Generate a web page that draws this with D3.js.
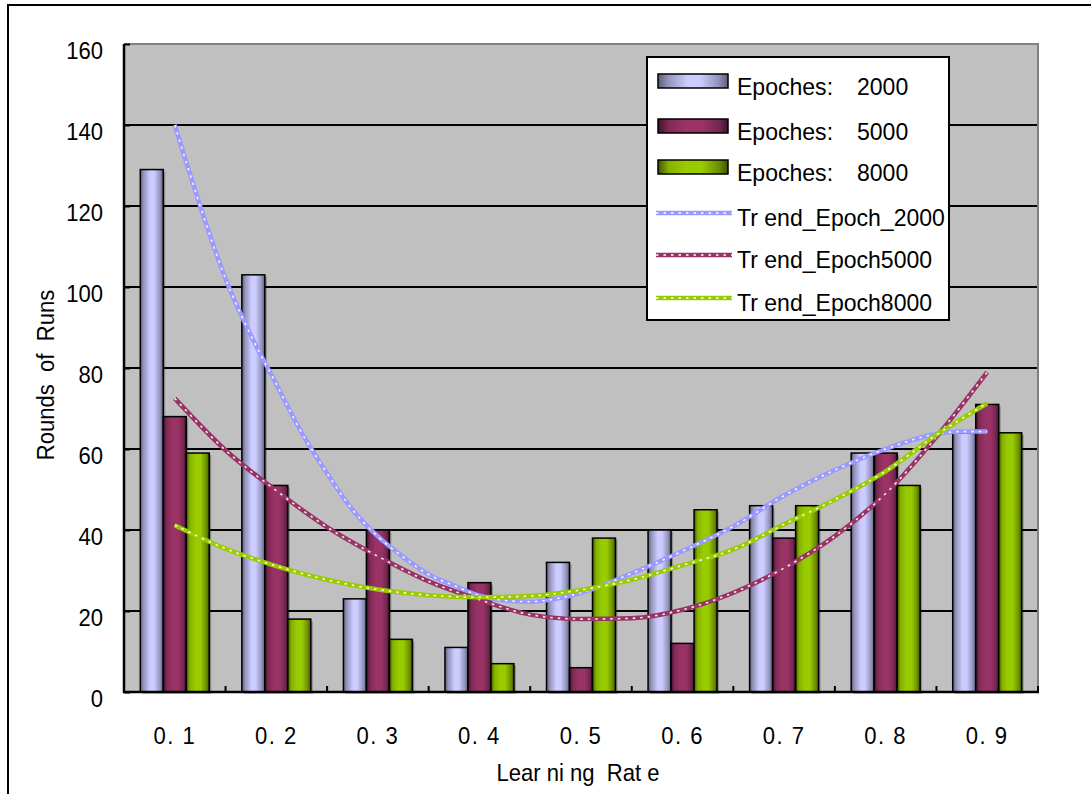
<!DOCTYPE html>
<html>
<head>
<meta charset="utf-8">
<script src="https://cdn.jsdelivr.net/npm/d3@7/dist/d3.min.js"></script>
<style>
  html, body { margin: 0; padding: 0; background: #fff; }
  svg { display: block; font-family: "Liberation Sans", Arial, sans-serif; }
  text { white-space: pre; }
</style>
</head>
<body>
<svg id="chart" width="1091" height="794"></svg>
<script>
// Learning-rate categories and tick labels
const categories = ["0. 1", "0. 2", "0. 3", "0. 4", "0. 5", "0. 6", "0. 7", "0. 8", "0. 9"];
const yTicks = [0, 20, 40, 60, 80, 100, 120, 140, 160];

// Rounds of runs per learning rate
const epoch2000 = [129, 103, 23, 11, 32, 40, 46, 59, 64];
const epoch5000 = [68, 51, 40, 27, 6, 12, 38, 59, 71];
const epoch8000 = [59, 18, 13, 7, 38, 45, 46, 51, 64];

// Trend curves, [learning rate, rounds]
const trend2000 = [[0.1,140],[0.125,120],[0.15,102],[0.175,88],[0.2,76],[0.225,64],[0.25,54],[0.275,45],[0.3,38.4],[0.325,33.3],[0.35,29],[0.375,26.3],[0.4,23.8],[0.425,22.6],[0.45,22.3],[0.475,23],[0.5,24.5],[0.55,29.3],[0.6,34.8],[0.65,40.9],[0.7,48.5],[0.75,54.8],[0.8,60],[0.85,63.7],[0.875,64.3],[0.9,64.3]];
const trend5000 = [[0.1,72.5],[0.15,59.7],[0.2,49.7],[0.25,40.7],[0.3,33.5],[0.35,27.3],[0.4,22.8],[0.45,19.1],[0.5,18],[0.55,18.2],[0.6,20.3],[0.65,24.5],[0.7,30.6],[0.75,38.5],[0.8,49],[0.85,63],[0.9,79]];
const trend8000 = [[0.1,41.2],[0.15,35.4],[0.2,31.1],[0.25,27.7],[0.3,25.3],[0.35,23.9],[0.4,23.4],[0.45,23.7],[0.5,25.2],[0.55,27.7],[0.6,31.3],[0.65,35.2],[0.7,41.4],[0.75,47.5],[0.8,54.5],[0.85,63.5],[0.9,71.3]];

const seriesKeys = ["e2000", "e5000", "e8000"];
const seriesLabel = "Epoches:";
const seriesEpochs = ["2000", "5000", "8000"];
const trendNames = ["Tr end_Epoch_2000", "Tr end_Epoch5000", "Tr end_Epoch8000"];
const trendColors = ["#9999ff", "#993366", "#99cc00"];

const svg = d3.select("#chart");
const plot = { left: 124, top: 44, right: 1038, bottom: 692 };

// Text is drawn slightly narrow: position via translate, then squeeze horizontally
function condense(sel, s) {
  sel.each(function () {
    const t = d3.select(this);
    const x = +t.attr("x") || 0, yy = +t.attr("y") || 0;
    const extra = t.attr("data-rot") ? ` rotate(${t.attr("data-rot")})` : "";
    t.attr("x", 0).attr("y", 0).attr("transform", `translate(${x},${yy})${extra} scale(${s},1)`);
  });
}

// Outer chart frame
svg.append("rect").attr("x", 8).attr("y", 5).attr("width", 1120).attr("height", 820)
  .attr("fill", "#fff").attr("stroke", "#000").attr("stroke-width", 2);

// Cylinder-like horizontal gradients for bars
const defs = svg.append("defs");
const gradStops = {
  e2000: [[0, "#5c5c78"], [0.14, "#9393bb"], [0.42, "#ccccff"], [0.6, "#ccccff"], [0.86, "#9494bf"], [1, "#5c5c78"]],
  e5000: [[0, "#3d1429"], [0.15, "#7f2a55"], [0.4, "#993366"], [0.65, "#993366"], [0.88, "#742650"], [1, "#3d1429"]],
  e8000: [[0, "#3f5400"], [0.15, "#85b000"], [0.4, "#99cc00"], [0.62, "#99cc00"], [0.88, "#6a8c00"], [1, "#3d5200"]]
};
seriesKeys.forEach(k => {
  const g = defs.append("linearGradient").attr("id", "g-" + k)
    .attr("x1", "0").attr("x2", "1").attr("y1", "0").attr("y2", "0");
  gradStops[k].forEach(s => g.append("stop").attr("offset", s[0]).attr("stop-color", s[1]));
});

// Scales
const x0 = d3.scaleBand().domain(categories).range([plot.left, plot.right]);
const x1 = d3.scaleBand().domain(seriesKeys).range([0, x0.bandwidth()]).paddingOuter(0.708);
const y = d3.scaleLinear().domain([0, 160]).range([plot.bottom, plot.top]);
const xLR = d3.scaleLinear().domain([0.05, 0.95]).range([plot.left, plot.right]);

// Plot background
svg.append("rect").attr("x", plot.left).attr("y", plot.top)
  .attr("width", plot.right - plot.left).attr("height", plot.bottom - plot.top)
  .attr("fill", "#c0c0c0");

// Gridlines
svg.append("g").selectAll("line").data(yTicks.filter(t => t > 0 && t < 160)).join("line")
  .attr("x1", plot.left).attr("x2", plot.right)
  .attr("y1", d => y(d)).attr("y2", d => y(d))
  .attr("stroke", "#000").attr("stroke-width", 2);

// Plot border (top and right)
svg.append("path")
  .attr("d", `M${plot.left},${plot.top}H${plot.right}V${plot.bottom}`)
  .attr("fill", "none").attr("stroke", "#808080").attr("stroke-width", 2);

// Bars
const rows = categories.map((c, i) => ({ cat: c, e2000: epoch2000[i], e5000: epoch5000[i], e8000: epoch8000[i] }));
const groups = svg.append("g").selectAll("g").data(rows).join("g")
  .attr("transform", d => `translate(${x0(d.cat)},0)`);
groups.selectAll("rect.shadow").data(d => seriesKeys.map(k => ({ key: k, value: d[k] }))).join("rect")
  .attr("class", "shadow")
  .attr("x", d => x1(d.key) + 2).attr("y", d => y(d.value) + 2)
  .attr("width", x1.bandwidth()).attr("height", d => y(0) - y(d.value))
  .attr("fill", "#000").attr("opacity", 0.25);
groups.selectAll("rect.bar").data(d => seriesKeys.map(k => ({ key: k, value: d[k] }))).join("rect")
  .attr("class", "bar")
  .attr("x", d => x1(d.key)).attr("y", d => y(d.value))
  .attr("width", x1.bandwidth()).attr("height", d => y(0) - y(d.value))
  .attr("fill", d => `url(#g-${d.key})`)
  .attr("stroke", "#000").attr("stroke-width", 1.5);

// Axis lines
svg.append("line").attr("x1", plot.left).attr("x2", plot.left).attr("y1", plot.top).attr("y2", plot.bottom + 1)
  .attr("stroke", "#000").attr("stroke-width", 2.5);
svg.append("line").attr("x1", plot.left - 1).attr("x2", plot.right + 1).attr("y1", plot.bottom).attr("y2", plot.bottom)
  .attr("stroke", "#000").attr("stroke-width", 2.5);

// Y axis ticks and labels
const yAxis = d3.axisLeft(y).tickValues(yTicks).tickSize(-6).tickPadding(21).tickFormat(d3.format("d"));
const yG = svg.append("g").attr("transform", `translate(${plot.left},0)`).call(yAxis);
yG.select(".domain").remove();
yG.selectAll(".tick line").attr("stroke", "#000").attr("stroke-width", 2);
yG.selectAll(".tick text").attr("font-size", 24).attr("fill", "#000")
  .attr("font-family", "Liberation Sans, Arial, sans-serif").attr("dy", 14.5)
  .call(condense, 0.92);

// X axis: ticks on category boundaries, labels at centres
const boundaries = categories.slice(1).map(c => x0(c)).concat([plot.right]);
svg.append("g").selectAll("line").data(boundaries).join("line")
  .attr("x1", d => d).attr("x2", d => d).attr("y1", plot.bottom).attr("y2", plot.bottom - 6)
  .attr("stroke", "#000").attr("stroke-width", 2);
const xAxis = d3.axisBottom(x0).tickSize(0).tickPadding(0);
const xG = svg.append("g").attr("transform", `translate(0,${plot.bottom})`).call(xAxis);
xG.select(".domain").remove();
xG.selectAll(".tick text").attr("font-size", 24).attr("fill", "#000")
  .attr("font-family", "Liberation Sans, Arial, sans-serif").attr("dy", 52)
  .attr("letter-spacing", 1.6)
  .call(condense, 0.92);

// Axis titles
svg.append("text").attr("x", 578).attr("y", 781).attr("text-anchor", "middle")
  .attr("font-size", 24).attr("fill", "#000").text("Lear ni ng  Rat e")
  .call(condense, 0.92);
svg.append("text").attr("x", 54).attr("y", 375).attr("data-rot", -90).attr("text-anchor", "middle")
  .attr("font-size", 24).attr("fill", "#000").text("Rounds  of  Runs")
  .call(condense, 0.92);

// Trend lines: coloured band with white dotted core
const line = d3.line().x(d => xLR(d[0])).y(d => y(d[1])).curve(d3.curveMonotoneX);
[trend2000, trend5000, trend8000].forEach((t, i) => {
  svg.append("path").datum(t).attr("d", line).attr("fill", "none")
    .attr("stroke", trendColors[i]).attr("stroke-width", 4.5).attr("stroke-linejoin", "round");
  svg.append("path").datum(t).attr("d", line).attr("fill", "none")
    .attr("stroke", "#fff").attr("stroke-width", 1.6).attr("stroke-dasharray", "2.5,5").attr("opacity", 0.9);
});

// Legend
const legend = svg.append("g");
legend.append("rect").attr("x", 647).attr("y", 57).attr("width", 302).attr("height", 263)
  .attr("fill", "#fff").attr("stroke", "#000").attr("stroke-width", 2);
const rowY = [81, 126, 167, 213, 255, 298];
seriesKeys.forEach((k, i) => {
  legend.append("rect").attr("x", 658).attr("y", rowY[i] - 7).attr("width", 70).attr("height", 14)
    .attr("fill", `url(#g-${k})`).attr("stroke", "#000").attr("stroke-width", 1.5);
  legend.append("text").attr("x", 737).attr("y", rowY[i] + 14).attr("font-size", 24).attr("fill", "#000")
    .text(seriesLabel).call(condense, 0.96);
  legend.append("text").attr("x", 857).attr("y", rowY[i] + 14).attr("font-size", 24).attr("fill", "#000")
    .text(seriesEpochs[i]).call(condense, 0.96);
});
trendNames.forEach((n, i) => {
  const yy = rowY[i + 3];
  legend.append("line").attr("x1", 656).attr("x2", 732).attr("y1", yy).attr("y2", yy)
    .attr("stroke", trendColors[i]).attr("stroke-width", 4.5);
  legend.append("line").attr("x1", 656).attr("x2", 732).attr("y1", yy).attr("y2", yy)
    .attr("stroke", "#fff").attr("stroke-width", 1.6).attr("stroke-dasharray", "2.5,5");
  legend.append("text").attr("x", 737).attr("y", yy + 13).attr("font-size", 24).attr("fill", "#000")
    .text(n).call(condense, 0.96);
});
</script>
</body>
</html>
